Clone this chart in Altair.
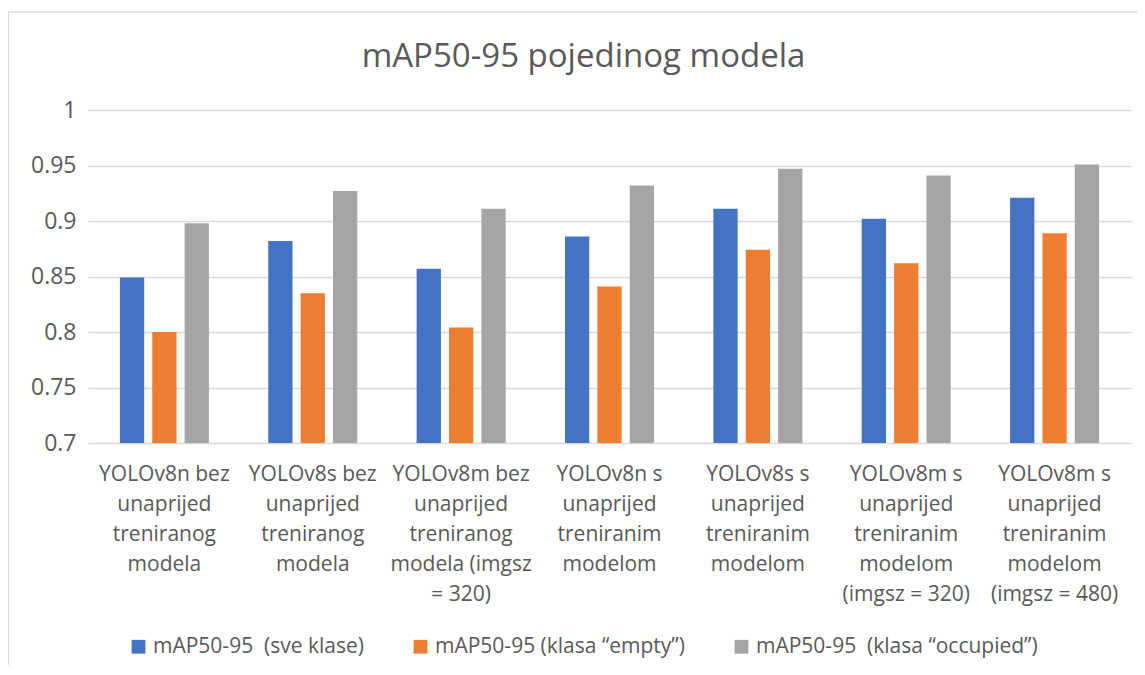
import altair as alt
import pandas as pd

categories = [
    "YOLOv8n bez\nunaprijed\ntreniranog\nmodela",
    "YOLOv8s bez\nunaprijed\ntreniranog\nmodela",
    "YOLOv8m bez\nunaprijed\ntreniranog\nmodela (imgsz\n= 320)",
    "YOLOv8n s\nunaprijed\ntreniranim\nmodelom",
    "YOLOv8s s\nunaprijed\ntreniranim\nmodelom",
    "YOLOv8m s\nunaprijed\ntreniranim\nmodelom\n(imgsz = 320)",
    "YOLOv8m s\nunaprijed\ntreniranim\nmodelom\n(imgsz = 480)",
]
series = [
    "mAP50-95\u00a0 (sve klase)",
    "mAP50-95 (klasa \u201cempty\u201d)",
    "mAP50-95\u00a0 (klasa \u201coccupied\u201d)",
]
vals_all = [0.849, 0.882, 0.857, 0.886, 0.911, 0.902, 0.921]
vals_empty = [0.800, 0.835, 0.804, 0.841, 0.874, 0.862, 0.889]
vals_occ = [0.898, 0.927, 0.911, 0.932, 0.947, 0.941, 0.951]
y_ticks = [0.7, 0.75, 0.8, 0.85, 0.9, 0.95, 1.0]
colors = ["#4472C4", "#ED7D31", "#A5A5A5"]

rows = []
for s, vals in zip(series, [vals_all, vals_empty, vals_occ]):
    for c, v in zip(categories, vals):
        rows.append({"model": c, "serija": s, "value": v})
df = pd.DataFrame(rows)

FONT = "Open Sans"
TXT = "#595959"
BORDER = "#D9D9D9"

bars = alt.Chart(df).mark_bar(clip=True).encode(
    x=alt.X("model:N", sort=categories, title=None,
            scale=alt.Scale(paddingInner=0.4, paddingOuter=0.215),
            axis=alt.Axis(labelAngle=0, labelExpr="split(datum.label, '\\n')",
                          labelLimit=0, labelOverlap=False, ticks=False,
                          domain=False, labelPadding=20,
                          labelFontSize=21, labelLineHeight=30,
                          labelColor=TXT, labelFont=FONT, labelBaseline="top")),
    xOffset=alt.XOffset("serija:N", sort=series,
                        scale=alt.Scale(paddingInner=0.25, paddingOuter=0)),
    y=alt.Y("value:Q", title=None,
            scale=alt.Scale(domain=[0.7, 1.0], zero=False, nice=False),
            axis=alt.Axis(values=y_ticks, format="~g", ticks=False, domain=False,
                          gridColor="#D9D9D9", gridWidth=1.3, labelPadding=12,
                          labelFontSize=23, labelColor=TXT, labelFont=FONT)),
    y2=alt.datum(0.7),
    color=alt.Color("serija:N", sort=series,
                    scale=alt.Scale(domain=series, range=colors),
                    legend=alt.Legend(title=None, orient="none", direction="horizontal",
                                      legendX=40, legendY=526, padding=0,
                                      symbolType="square", symbolSize=190,
                                      symbolStrokeWidth=0, labelFontSize=21,
                                      labelFont=FONT, labelColor=TXT, labelLimit=0,
                                      labelOffset=4, columnPadding=46)),
)

frame_df = pd.DataFrame({"k": [0]})
border_left = alt.Chart(frame_df).mark_rule(color=BORDER, strokeWidth=2).encode(
    x=alt.value(-80), y=alt.value(-98), y2=alt.value(600))
border_top = alt.Chart(frame_df).mark_rule(color=BORDER, strokeWidth=1.5).encode(
    x=alt.value(-80), x2=alt.value(1100), y=alt.value(-98))

chart = alt.layer(bars, border_left, border_top).properties(
    width=1043, height=333,
    background="white",
    title=alt.TitleParams("mAP50-95 pojedinog modela", fontSize=33, font=FONT,
                          fontWeight="normal", color=TXT, anchor="middle",
                          dx=-26, offset=-63),
    padding={"left": 80, "top": 102, "right": 6, "bottom": 222},
    autosize=alt.AutoSizeParams(type="none"),
).configure_view(stroke=None)

chart.save("out.html", embed_options={"renderer": "svg", "actions": False})
